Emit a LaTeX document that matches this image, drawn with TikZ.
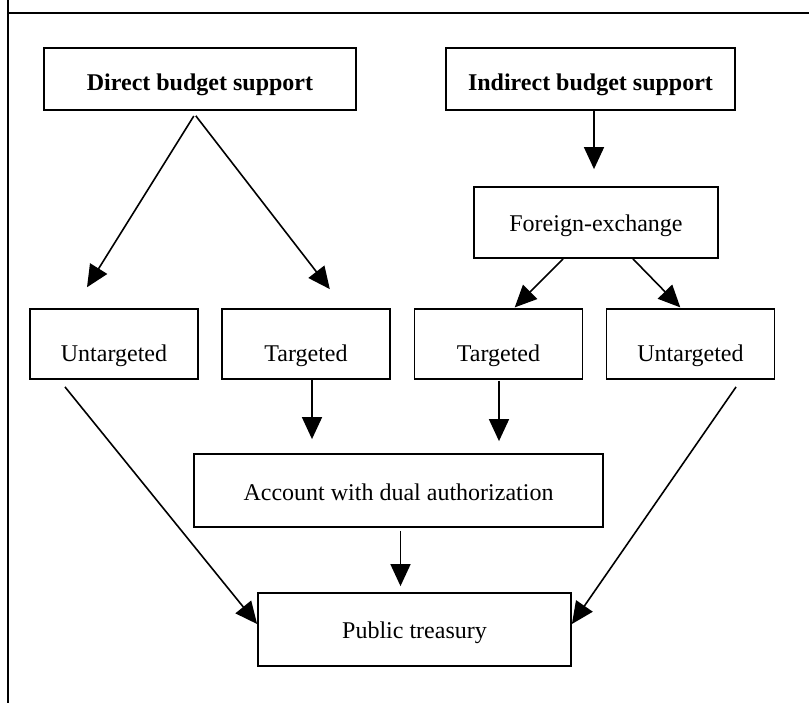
\documentclass[tikz,border=0pt]{standalone}
\usepackage{fontspec}
\setmainfont{Liberation Serif}
\usetikzlibrary{arrows.meta}
\newcommand{\lowered}[2]{\raisebox{-#1}[\height][\depth]{#2}}
\tikzset{
    box/.style={
    ,   draw
    ,   rectangle
    ,   line width=0.9pt
    ,   inner sep=0pt
    },
    topBox/.style={
    ,   box
    ,   minimum height=31pt
    ,   font={\fontsize{12pt}{14pt}\bfseries}
    },
    midBox/.style={
    ,   box
    ,   minimum width=84pt
    ,   minimum height=35pt
    ,   font={\fontsize{12pt}{14pt}\selectfont}
    },
    lowBox/.style={
    ,   box
    ,   minimum height=36.5pt
    ,   font={\fontsize{12pt}{14pt}\selectfont}
    },
    frameLine/.style={
    ,   -
    ,   line width=1.2pt
    }
}

\begin{document}
\begin{tikzpicture}[->,>={Triangle[length=11pt, width=10pt]}
				,x=0.5pt,y=-0.5pt
				,line width=0.8pt]
		\useasboundingbox (0,0) rectangle (809,703);
		\draw[frameLine] (8,0) -- (8,703);
		\draw[frameLine] (8,13) -- (809,13);

		\node[topBox, minimum width=156pt] (direct) at (200,79) {\lowered{3pt}{Direct budget support}};
		\node[topBox, minimum width=144.5pt] (indirect) at (590.5,79) {\lowered{3pt}{Indirect budget support}};
		\node[lowBox, minimum width=122pt, minimum height=35.5pt] (forex) at (596,222.5) {\lowered{1.5pt}{Foreign-exchange}};

		\foreach \n/\x/\t in {untgtL/114/Untargeted, tgtL/306/Targeted, tgtR/498.5/Targeted, untgtR/690.5/Untargeted}{
			\node[midBox] (\n) at (\x,344) {\lowered{6pt}{\t}};
		}

		\node[lowBox, minimum width=204.5pt] (account) at (398.5,490.5) {\lowered{1pt}{Account with dual authorization}};
		\node[lowBox, minimum width=156.5pt] (treasury) at (414.5,629.5) {\lowered{1.5pt}{Public treasury}};

		\path([xshift=-1.5pt]direct.south) edge [shorten <=3pt, shorten >=12.3pt] ([xshift=-20pt]untgtL.north)
				([xshift=-4pt]direct.south) edge [shorten <=3.1pt, shorten >=12pt] ([xshift=19.25pt]tgtL.north)
				([xshift=1.75pt]indirect.south) edge [shorten >=8.5pt] ([xshift=1.75pt]indirect.south |- forex.north)
				([xshift=-16.5pt]forex.south) edge [shorten >=0.5pt] ([xshift=7.75pt]tgtR.north)
				([xshift=18.5pt]forex.south) edge [shorten >=0.5pt] ([xshift=-4.75pt]untgtR.north)
				([xshift=3pt]tgtL.south) edge [shorten >=7pt] ([xshift=3pt]tgtL.south |- account.north)
				([xshift=0.25pt]tgtR.south) edge [shorten <=0.5pt, shorten >=6pt] ([xshift=0.25pt]tgtR.south |- account.north)
				([xshift=-27.35pt]untgtL.south) edge [shorten <=4.5pt] ([yshift=2.75pt]treasury.west)
				([xshift=1pt]account.south) edge [shorten <=1.5pt, shorten >=3pt] ([xshift=1pt]account.south |- treasury.north)
				([xshift=25.2pt]untgtR.south) edge [shorten <=4.25pt] ([yshift=2.75pt]treasury.east);
\end{tikzpicture}
\end{document}
